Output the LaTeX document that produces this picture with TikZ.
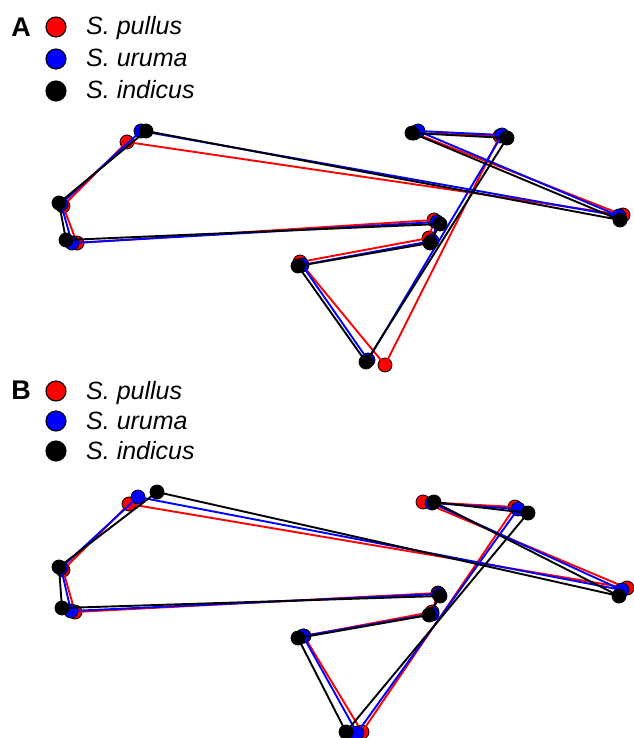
\documentclass[tikz,border=0pt]{standalone}
\usepackage{fontspec}
\setmainfont{Liberation Sans}
\begin{document}
\begin{tikzpicture}[x=1pt,y=-1pt,
  pt/.style={circle,draw=black,line width=0.8pt,minimum size=14pt,inner sep=0pt},
  ln/.style={line width=1.9pt,line join=round},
  legdot/.style={circle,draw=black,line width=1.1pt,minimum size=20pt,inner sep=0pt},
  legtxt/.style={anchor=base west,font=\fontsize{25}{29}\selectfont\itshape,inner sep=0pt},
  panel/.style={font=\fontsize{27}{31}\selectfont\bfseries,inner sep=0pt}]
\useasboundingbox (0,0) rectangle (633,738);
% ---------- legends ----------
\node[panel] (labA) at (21,27) {A};
\node[legdot,fill=red]   (lAr) at (56,27) {};
\node[legdot,fill=blue]  (lAb) at (56,59) {};
\node[legdot,fill=black] (lAk) at (56,91) {};
\node[legtxt] (tAr) at (86,35) {S. pullus};
\node[legtxt] (tAb) at (86,67) {S. uruma};
\node[legtxt] (tAk) at (86,99) {S. indicus};
\node[panel] (labB) at (21,390) {B};
\node[legdot,fill=red]   (lBr) at (56,391) {};
\node[legdot,fill=blue]  (lBb) at (56,421) {};
\node[legdot,fill=black] (lBk) at (56,451) {};
\node[legtxt] (tBr) at (86,399) {S. pullus};
\node[legtxt] (tBb) at (86,429) {S. uruma};
\node[legtxt] (tBk) at (86,459) {S. indicus};
% ---------- panel A ----------
% S. pullus
\foreach \x/\y [count=\i] in {127/142,63/206,77/243,434/220,429/238,300/262,385/365,500/136,414/133,623/215}
  \node[pt,fill=red] (Ar\i) at (\x,\y) {};
\draw[ln,red] (Ar1.center) \foreach \i in {2,...,10} {-- (Ar\i.center)} -- cycle;
% S. uruma
\foreach \x/\y [count=\i] in {141/131,61/204,72/243,437/222,432/241,302/265,368/360,502/135,418/131,619/216}
  \node[pt,fill=blue] (Ab\i) at (\x,\y) {};
\draw[ln,blue] (Ab1.center) \foreach \i in {2,...,10} {-- (Ab\i.center)} -- cycle;
% S. indicus
\foreach \x/\y [count=\i] in {146/131,59/203,66/240,440/224,430/243,298/266,366/362,507/138,412/133,620/220}
  \node[pt,fill=black] (Ak\i) at (\x,\y) {};
\draw[ln,black] (Ak1.center) \foreach \i in {2,...,10} {-- (Ak\i.center)} -- cycle;
% ---------- panel B ----------
% S. pullus
\foreach \x/\y [count=\i] in {129/504,63/570,75/612,438/593,432/612,304/636,362/732,515/507,423/502,627/588}
  \node[pt,fill=red] (Br\i) at (\x,\y) {};
\draw[ln,red] (Br1.center) \foreach \i in {2,...,10} {-- (Br\i.center)} -- cycle;
% S. uruma
\foreach \x/\y [count=\i] in {138/497,61/568,71/611,439/594,432/614,303/636,357/733,518/509,432/503,622/590}
  \node[pt,fill=blue] (Bb\i) at (\x,\y) {};
\draw[ln,blue] (Bb1.center) \foreach \i in {2,...,10} {-- (Bb\i.center)} -- cycle;
% S. indicus
\foreach \x/\y [count=\i] in {157/492,59/567,62/608,440/596,429/615,298/638,346/732,528/513,434/502,619/596}
  \node[pt,fill=black] (Bk\i) at (\x,\y) {};
\draw[ln,black] (Bk1.center) \foreach \i in {2,...,10} {-- (Bk\i.center)} -- cycle;
\end{tikzpicture}
\end{document}
